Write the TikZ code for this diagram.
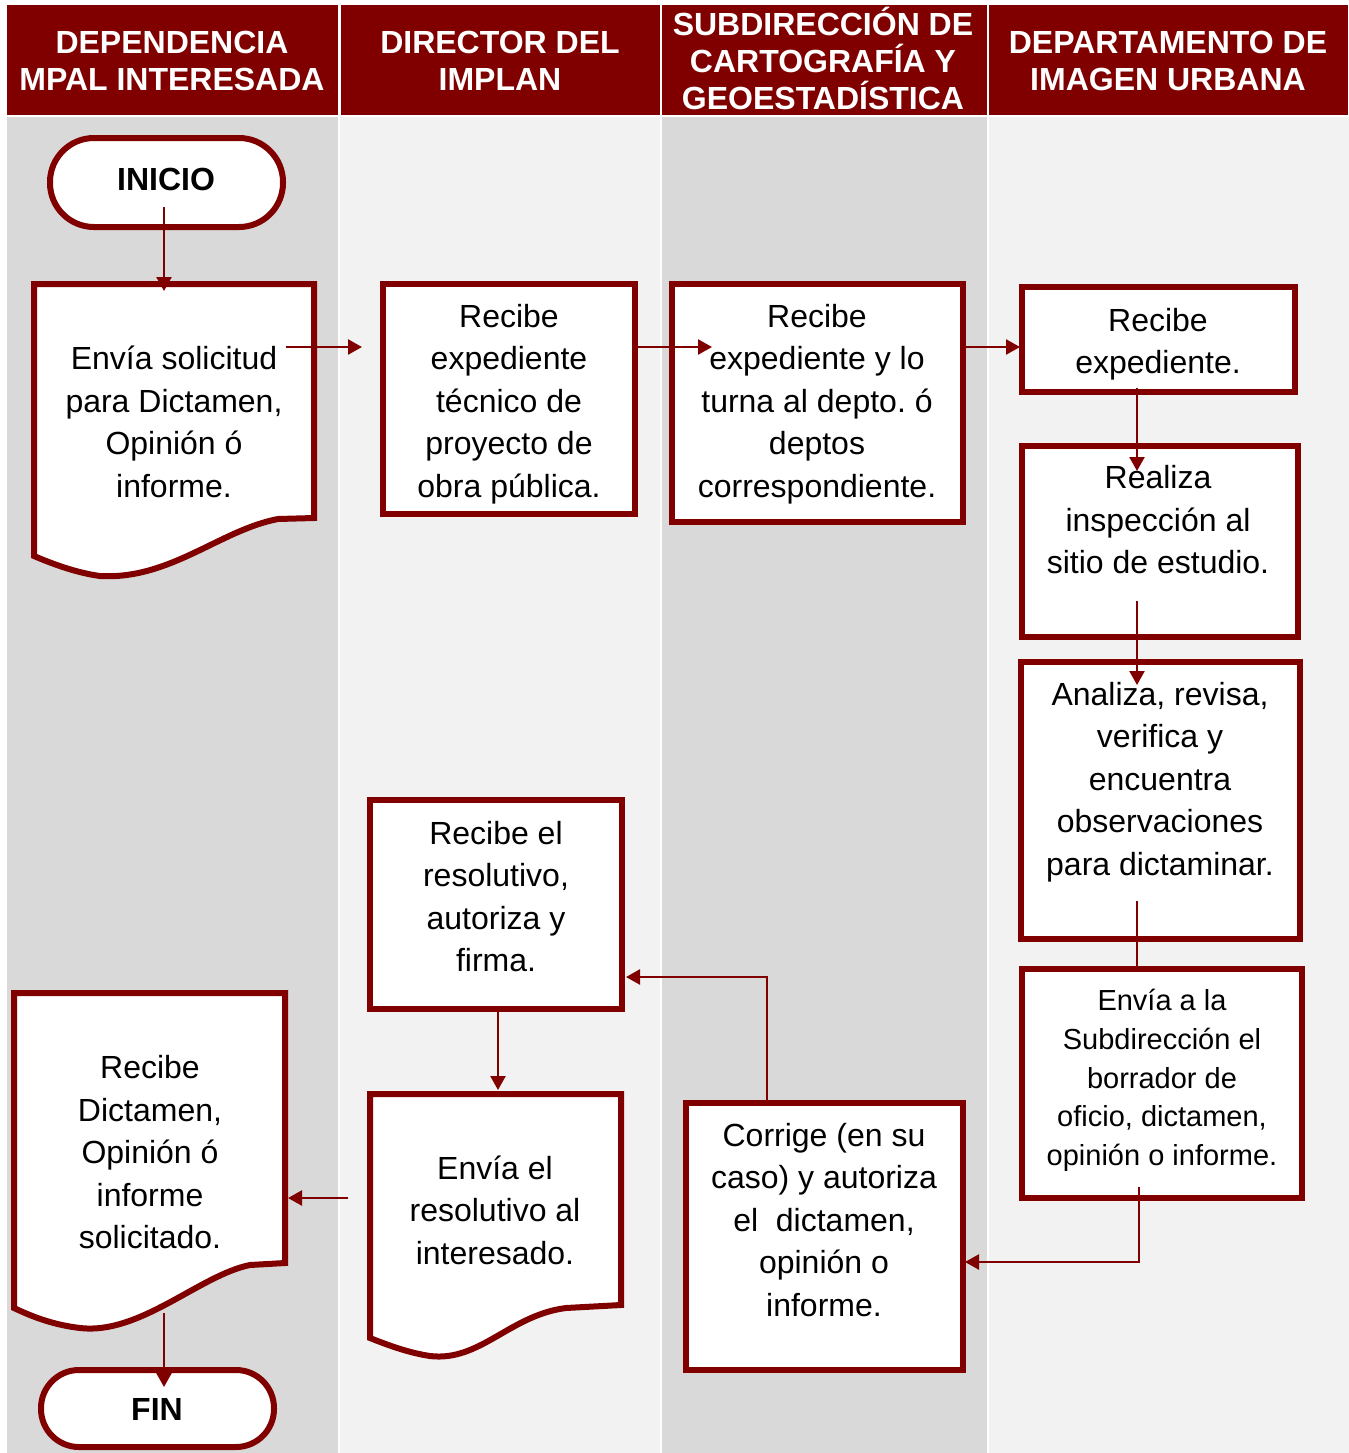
\documentclass[tikz,border=0pt]{standalone}
\usepackage{fontspec}
\setmainfont{Liberation Sans}
\usetikzlibrary{arrows.meta}
\definecolor{mred}{HTML}{800000}
\definecolor{laneA}{HTML}{D9D9D9}
\definecolor{laneB}{HTML}{F2F2F2}
\frenchspacing
\begin{document}
\begin{tikzpicture}[x=0.5pt,y=-0.5pt,
  hdr/.style={fill=mred,draw=none},
  htxt/.style={text=white,font=\bfseries\fontsize{16}{18.5}\selectfont,align=center,inner sep=0},
  pbox/.style={draw=mred,fill=white,line width=3pt,inner sep=0,outer sep=0},
  term/.style={pbox,rounded corners=#1},
  docp/.style={draw=mred,fill=white,line width=3pt},
  btxt/.style={font=\fontsize{16}{21.25}\selectfont,align=center,inner sep=0},
  stxt/.style={font=\fontsize{14.5}{19.4}\selectfont,align=center,inner sep=0},
  ttxt/.style={font=\bfseries\fontsize{16}{19}\selectfont,inner sep=0},
  arr/.style={draw=mred,line width=1.2pt,-{Triangle[length=7pt,width=7.5pt]}},
  lnk/.style={draw=mred,line width=1.2pt}]
\fill[white] (0,0) rectangle (1349,1453);
\useasboundingbox (0,0) rectangle (1349,1453);
% lanes
\fill[laneA] (7,117) rectangle (338,1453);
\fill[laneB] (340,117) rectangle (660,1453);
\fill[laneA] (662,117) rectangle (987,1453);
\fill[laneB] (989,117) rectangle (1349,1453);
% headers
\fill[hdr] (7,5) rectangle (338,115);
\fill[hdr] (341,5) rectangle (660,115);
\fill[hdr] (662,5) rectangle (987,115);
\fill[hdr] (989,5) rectangle (1348,115);
\node[htxt] (h1) at (172,60.5) {DEPENDENCIA\\MPAL INTERESADA};
\node[htxt] (h2) at (500,60.5) {DIRECTOR DEL\\IMPLAN};
\node[htxt] (h3) at (823,58) {SUBDIRECCIÓN DE\\CARTOGRAFÍA Y\\GEOESTADÍSTICA};
\node[htxt] (h4) at (1168,60.5) {DEPARTAMENTO DE\\IMAGEN URBANA};
% terminals
\node[term=22pt,minimum width=116.5pt,minimum height=44.5pt] (ini) at (166.5,182.5) {};
\node[ttxt] (initxt) at (166,179) {INICIO};
\node[term=19pt,minimum width=116.5pt,minimum height=38.5pt] (fin) at (157.5,1408.5) {};
\node[ttxt] (fintxt) at (157,1409) {FIN};
% document shapes
\draw[docp] (34,284) -- (314,284) -- (314,518) -- (278,519)
  .. controls (220,530) and (170,580) .. (100,576)
  .. controls (78,573) and (55,565) .. (34,556) -- cycle;
\node[btxt] (d1) at (174,422) {Envía solicitud\\para Dictamen,\\Opinión ó\\informe.};
\draw[docp] (370,1094) -- (621,1094) -- (621,1305) -- (566,1308)
  .. controls (510,1315) and (480,1362) .. (430,1356)
  .. controls (410,1353) and (390,1346) .. (370,1338) -- cycle;
\node[btxt] (d10) at (495,1210) {Envía el\\resolutivo al\\interesado.};
\draw[docp] (14,993) -- (285,993) -- (285,1263) -- (250,1265)
  .. controls (200,1275) and (140,1335) .. (80,1328)
  .. controls (55,1325) and (35,1318) .. (14,1308) -- cycle;
\node[btxt] (d11) at (150,1152.5) {Recibe\\Dictamen,\\Opinión ó\\informe\\solicitado.};
% process boxes
\node[pbox,minimum width=126pt,minimum height=115pt] (b2) at (509,399) {};
\node[btxt] (t2) at (509,404) {Recibe\\expediente\\técnico de\\proyecto de\\obra pública.};
\node[pbox,minimum width=145.5pt,minimum height=119pt] (b3) at (817.5,403) {};
\node[btxt] (t3) at (817,404) {Recibe\\expediente y lo\\turna al depto. ó\\deptos\\correspondiente.};
\node[pbox,minimum width=136.5pt,minimum height=52.5pt] (b4) at (1158.5,339.5) {};
\node[btxt] (t4) at (1158,344) {Recibe\\expediente.};
\node[pbox,minimum width=138pt,minimum height=95.5pt] (b5) at (1160,541.5) {};
\node[btxt] (t5) at (1158,520) {Realiza\\inspección al\\sitio de estudio.};
\node[pbox,minimum width=139.5pt,minimum height=138.5pt] (b6) at (1160.5,800.5) {};
\node[btxt] (t6) at (1160,782) {Analiza, revisa,\\verifica y\\encuentra\\observaciones\\para dictaminar.};
\node[pbox,minimum width=140pt,minimum height=114.5pt] (b7) at (1162,1083.5) {};
\node[stxt] (t7) at (1162,1080.5) {Envía a la\\Subdirección el\\borrador de\\oficio, dictamen,\\opinión o informe.};
\node[pbox,minimum width=138.5pt,minimum height=133.5pt] (b8) at (824.5,1236.5) {};
\node[btxt] (t8) at (824,1220) {Corrige (en su\\caso) y autoriza\\el\ \ dictamen,\\opinión o\\informe.};
\node[pbox,minimum width=126pt,minimum height=104.5pt] (b9) at (496,904.5) {};
\node[btxt] (t9) at (496,896.5) {Recibe el\\resolutivo,\\autoriza y\\firma.};
% connector end points
\coordinate (a1s) at (164,207);  \coordinate (a1e) at (164,291);
\coordinate (a2s) at (286,347);  \coordinate (a2e) at (362,347);
\coordinate (a3s) at (638,347);  \coordinate (a3e) at (712,347);
\coordinate (a4s) at (966,347);  \coordinate (a4e) at (1020,347);
\coordinate (a5s) at (1137,388); \coordinate (a5e) at (1137,471);
\coordinate (a6s) at (1137,601); \coordinate (a6e) at (1137,685);
\coordinate (a7s) at (1137,901); \coordinate (a7e) at (1137,966);
\coordinate (a8s) at (1139,1187); \coordinate (a8m) at (1139,1262); \coordinate (a8e) at (965,1262);
\coordinate (a9s) at (767,1100); \coordinate (a9m) at (767,977); \coordinate (a9e) at (626,977);
\coordinate (a10s) at (498,1010); \coordinate (a10e) at (498,1090);
\coordinate (a11s) at (348,1198); \coordinate (a11e) at (288,1198);
\coordinate (a12s) at (164,1313); \coordinate (a12e) at (164,1387);
% connectors
\draw[arr] (a1s) -- (a1e);
\draw[arr] (a2s) -- (a2e);
\draw[arr] (a3s) -- (a3e);
\draw[arr] (a4s) -- (a4e);
\draw[arr] (a5s) -- (a5e);
\draw[arr] (a6s) -- (a6e);
\draw[lnk] (a7s) -- (a7e);
\draw[arr] (a8s) -- (a8m) -- (a8e);
\draw[arr] (a9s) -- (a9m) -- (a9e);
\draw[arr] (a10s) -- (a10e);
\draw[arr] (a11s) -- (a11e);
\draw[arr] (a12s) -- (a12e);
\end{tikzpicture}
\end{document}
